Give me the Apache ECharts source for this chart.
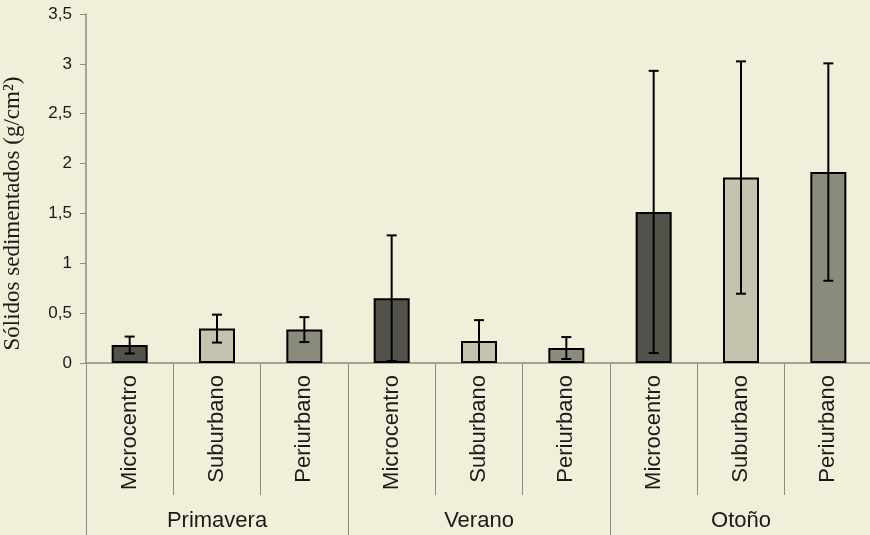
<!DOCTYPE html>
<html>
<head>
<meta charset="utf-8">
<script src="https://cdn.jsdelivr.net/npm/echarts@6/dist/echarts.min.js"></script>
<style>
  html, body { margin: 0; padding: 0; background: #F0EFD9; }
  #chart { width: 870px; height: 535px; }
</style>
</head>
<body>
<div id="chart"></div>
<script>
// Seasons (outer group) and sampling sites (inner categories)
const seasons = ['Primavera', 'Verano', 'Otoño'];
const sites = ['Microcentro', 'Suburbano', 'Periurbano'];

// Mean settled solids (g/cm²), in season order, site order within each season
const means = [0.18, 0.345, 0.335, 0.65, 0.22, 0.15, 1.515, 1.86, 1.915];
// Standard deviation shown as symmetric error bars
const errors = [0.085, 0.14, 0.125, 0.63, 0.21, 0.11, 1.415, 1.165, 1.09];

const yTicks = { min: 0, max: 3.5, interval: 0.5 };
const siteColors = ['#52524A', '#C3C3AE', '#8B8B7D'];

const categories = [];
seasons.forEach(s => sites.forEach(t => categories.push(s + '|' + t)));

const barData = means.map((v, i) => ({
  value: v,
  itemStyle: { color: siteColors[i % sites.length] }
}));
const errData = means.map((v, i) => [i, v - errors[i], v + errors[i]]);

const chart = echarts.init(document.getElementById('chart'));
const axisGray = '#8C8C80';

chart.setOption({
  backgroundColor: '#F0EFD9',
  animation: false,
  grid: {
    left: 86, top: 14, width: 786, bottom: 172,
    containLabel: false, outerBoundsMode: 'none'
  },
  xAxis: [
    {
      type: 'category',
      data: categories,
      position: 'bottom',
      axisLine: { show: true, lineStyle: { color: axisGray, width: 1.5 } },
      axisTick: { show: true, interval: 0, length: 132, lineStyle: { color: axisGray, width: 1 } },
      axisLabel: {
        interval: 0,
        rotate: 90,
        margin: 12,
        fontFamily: 'Liberation Sans',
        fontSize: 22,
        color: '#1a1a1a',
        formatter: v => v.split('|')[1]
      }
    },
    {
      type: 'category',
      data: seasons,
      position: 'bottom',
      axisLine: { show: false },
      axisTick: { show: true, interval: 0, length: 172, lineStyle: { color: axisGray, width: 1 } },
      axisLabel: {
        interval: 0,
        margin: 147,
        fontFamily: 'Liberation Sans',
        fontSize: 22,
        color: '#1a1a1a'
      }
    }
  ],
  yAxis: {
    type: 'value',
    min: yTicks.min,
    max: yTicks.max,
    interval: yTicks.interval,
    name: 'Sólidos sedimentados (g/cm²)',
    nameLocation: 'middle',
    nameRotate: 90,
    nameGap: 62,
    nameTextStyle: {
      fontFamily: 'Liberation Serif',
      fontSize: 23,
      color: '#1a1a1a',
      padding: [0, 50, 0, 0]
    },
    axisLine: { show: true, lineStyle: { color: axisGray, width: 1.5 } },
    axisTick: { show: true, length: 6, lineStyle: { color: axisGray } },
    splitLine: { show: false },
    axisLabel: {
      margin: 14,
      fontFamily: 'Liberation Sans',
      fontSize: 17,
      color: '#1a1a1a',
      formatter: v => String(v).replace('.', ',')
    }
  },
  series: [
    {
      type: 'bar',
      xAxisIndex: 0,
      data: barData,
      barWidth: 36,
      itemStyle: { borderColor: '#000', borderWidth: 2 }
    },
    {
      type: 'custom',
      xAxisIndex: 0,
      data: errData,
      encode: { x: 0, y: [1, 2] },
      z: 5,
      renderItem: function (params, api) {
        const x = api.value(0);
        const lo = api.coord([x, api.value(1)]);
        const hi = api.coord([x, api.value(2)]);
        const cap = 5;
        const style = { stroke: '#000', lineWidth: 2 };
        return {
          type: 'group',
          children: [
            { type: 'line', shape: { x1: lo[0], y1: lo[1], x2: hi[0], y2: hi[1] }, style },
            { type: 'line', shape: { x1: hi[0] - cap, y1: hi[1], x2: hi[0] + cap, y2: hi[1] }, style },
            { type: 'line', shape: { x1: lo[0] - cap, y1: lo[1], x2: lo[0] + cap, y2: lo[1] }, style }
          ]
        };
      }
    }
  ]
});
</script>
</body>
</html>
